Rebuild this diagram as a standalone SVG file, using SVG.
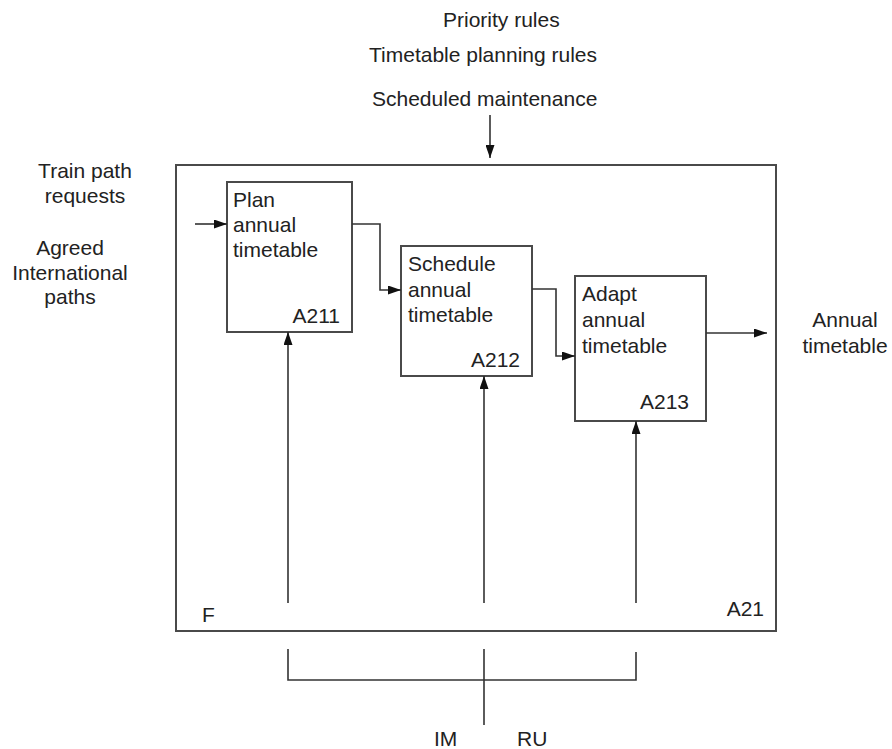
<svg xmlns="http://www.w3.org/2000/svg" width="892" height="749" viewBox="0 0 892 749">
  <style>
    text { font-family: "Liberation Sans", Arial, sans-serif; font-size: 21px; fill: #222; }
    .box { fill: #fff; stroke: #4a4a4a; stroke-width: 2; }
    .frame { fill: none; stroke: #4a4a4a; stroke-width: 2; }
    .wire { fill: none; stroke: #333; stroke-width: 1.6; }
    .mid { text-anchor: middle; }
    .end { text-anchor: end; }
  </style>
  <defs>
    <marker id="arrow" viewBox="0 0 13 9" refX="13" refY="4.5" markerWidth="13" markerHeight="9" markerUnits="userSpaceOnUse" orient="auto">
      <path d="M0,0 L13,4.5 L0,9 Z" fill="#111"/>
    </marker>
  </defs>

  <!-- context frame A21 -->
  <g id="frame-A21">
    <rect class="frame" x="176" y="165" width="600" height="466"/>
    <text x="202" y="622">F</text>
    <text class="end" x="764" y="616">A21</text>
  </g>

  <!-- external labels -->
  <g id="controls">
    <text x="443" y="27">Priority rules</text>
    <text x="369" y="62">Timetable planning rules</text>
    <text x="372" y="106">Scheduled maintenance</text>
  </g>
  <g id="inputs">
    <text class="mid" x="85" y="178">Train path</text>
    <text class="mid" x="85" y="203">requests</text>
    <text class="mid" x="70" y="255">Agreed</text>
    <text class="mid" x="70" y="280">International</text>
    <text class="mid" x="70" y="304">paths</text>
  </g>
  <g id="output">
    <text class="mid" x="845" y="327">Annual</text>
    <text class="mid" x="845" y="353">timetable</text>
  </g>
  <g id="mechanisms">
    <text x="434" y="746">IM</text>
    <text x="517" y="746">RU</text>
  </g>

  <!-- activities -->
  <g id="A211">
    <rect class="box" x="227" y="182" width="125" height="150"/>
    <text x="233" y="207">Plan</text>
    <text x="233" y="232">annual</text>
    <text x="233" y="257">timetable</text>
    <text class="end" x="340" y="323">A211</text>
  </g>
  <g id="A212">
    <rect class="box" x="401" y="246" width="131" height="130"/>
    <text x="408" y="271">Schedule</text>
    <text x="408" y="297">annual</text>
    <text x="408" y="322">timetable</text>
    <text class="end" x="520" y="367">A212</text>
  </g>
  <g id="A213">
    <rect class="box" x="575" y="276" width="131" height="145"/>
    <text x="582" y="301">Adapt</text>
    <text x="582" y="327">annual</text>
    <text x="582" y="353">timetable</text>
    <text class="end" x="689" y="409">A213</text>
  </g>

  <!-- connectors -->
  <g id="connectors">
    <path class="wire" d="M490,115 V158" marker-end="url(#arrow)"/>
    <path class="wire" d="M195,224 H227" marker-end="url(#arrow)"/>
    <path class="wire" d="M352,224 H380 V290 H401" marker-end="url(#arrow)"/>
    <path class="wire" d="M532,289 H556 V356 H575" marker-end="url(#arrow)"/>
    <path class="wire" d="M706,333 H767" marker-end="url(#arrow)"/>
    <path class="wire" d="M288,603 V332" marker-end="url(#arrow)"/>
    <path class="wire" d="M484,603 V376" marker-end="url(#arrow)"/>
    <path class="wire" d="M636,603 V421" marker-end="url(#arrow)"/>
    <path class="wire" d="M288,649 V680 H636 V652"/>
    <path class="wire" d="M484,649 V725"/>
  </g>
</svg>
